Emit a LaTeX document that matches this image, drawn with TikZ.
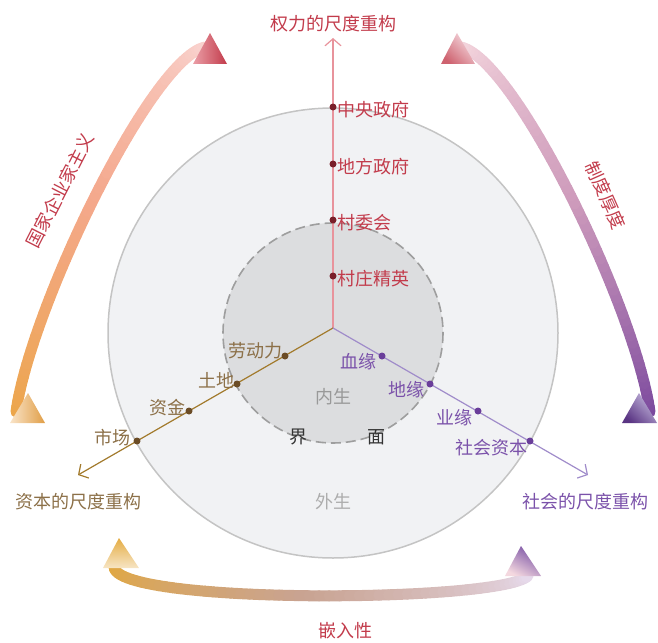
\documentclass[tikz,border=0pt]{standalone}
\usepackage{fontspec}
\newfontfamily\cjk{Noto Sans CJK SC}
\usetikzlibrary{arrows.meta}
\definecolor{redtxt}{HTML}{C23B4B}
\definecolor{redline}{HTML}{E8939C}
\definecolor{reddot}{HTML}{7A1F2A}
\definecolor{browntxt}{HTML}{8C7048}
\definecolor{brownline}{HTML}{A27A2C}
\definecolor{browndot}{HTML}{6B4C26}
\definecolor{purptxt}{HTML}{7B52AA}
\definecolor{purpline}{HTML}{A08CCA}
\definecolor{purpdot}{HTML}{6A3E9A}
\definecolor{outerfill}{HTML}{F1F2F4}
\definecolor{outerdraw}{HTML}{C4C4C4}
\definecolor{innerfill}{HTML}{DCDDDF}
\definecolor{innerdraw}{HTML}{9E9E9E}
% arc colours: a = start, m = middle, b = end
\definecolor{ArcLa}{HTML}{ECA64A}
\definecolor{ArcLm}{HTML}{F4A88C}
\definecolor{ArcLb}{HTML}{F9D2CE}
\definecolor{ArcRa}{HTML}{7A489E}
\definecolor{ArcRm}{HTML}{CE9BBB}
\definecolor{ArcRb}{HTML}{F3D4DC}
\definecolor{ArcBa}{HTML}{E3A83A}
\definecolor{ArcBm}{HTML}{C9A392}
\definecolor{ArcBb}{HTML}{E6DAEC}
\newcommand\gradband[9]{%
  \foreach \i in {0,...,59}{%
    \pgfmathsetmacro\ta{\i/60}%
    \pgfmathsetmacro\tb{(\i+1)/60}%
    \pgfmathsetmacro\tm{(\i+0.5)/60}%
    \ifdim\tm pt<0.5pt
      \pgfmathsetmacro\pcm{200*\tm}\edef\cc{#9m!\pcm!#9a}%
    \else
      \pgfmathsetmacro\pcm{200*\tm-100}\edef\cc{#9b!\pcm!#9m}%
    \fi
    \draw[band,color=\cc] ({bz(\ta,#1,#2,#3,#4)},{bz(\ta,#5,#6,#7,#8)}) -- ({bz(\tb,#1,#2,#3,#4)},{bz(\tb,#5,#6,#7,#8)});
  }}
\begin{document}
\begin{tikzpicture}[x=1pt,y=-1pt,
  declare function={bz(\qs,\qa,\qb,\qc,\qd)=(1-\qs)^3*\qa+3*(1-\qs)^2*\qs*\qb+3*(1-\qs)*\qs^2*\qc+\qs^3*\qd;},
  lbl/.style={font=\cjk\fontsize{18}{18}\selectfont, inner sep=0pt, text height=1.3em, text depth=0.1em},
  band/.style={line width=11pt, line cap=round},
  dotR/.style={circle, fill=reddot, inner sep=0pt, minimum size=7pt},
  dotB/.style={circle, fill=browndot, inner sep=0pt, minimum size=7pt},
  dotP/.style={circle, fill=purpdot, inner sep=0pt, minimum size=7pt},
  axis/.style={line width=1.2pt, -{Straight Barb[length=7pt,width=16pt,line width=1.2pt]}}]
\useasboundingbox (0,0) rectangle (658,642);

% circles
\filldraw[fill=outerfill, draw=outerdraw, line width=1.5pt] (333,333) circle[radius=225];
\filldraw[fill=innerfill, draw=innerdraw, line width=1.6pt, dash pattern=on 10pt off 5pt] (333,333) circle[radius=110];

% axes
\coordinate (O) at (333,328);
\coordinate (tipU) at (333,38);
\coordinate (tipB) at (78,475);
\coordinate (tipP) at (588,475);
\draw[axis, redline] (O) -- (tipU);
\draw[axis, brownline] (O) -- (tipB);
\draw[axis, purpline] (O) -- (tipP);

% vertical dots and labels
\node[dotR] (v1) at (333,107) {};
\node[dotR] (v2) at (333,164) {};
\node[dotR] (v3) at (333,220) {};
\node[dotR] (v4) at (333,276) {};
\node[lbl, text=redtxt, anchor=west] (tv1) at (337,110) {中央政府};
\node[lbl, text=redtxt, anchor=west] (tv2) at (337,167) {地方政府};
\node[lbl, text=redtxt, anchor=west] (tv3) at (337,223) {村委会};
\node[lbl, text=redtxt, anchor=west] (tv4) at (337,279) {村庄精英};

% brown dots and labels
\node[dotB] (b1) at (285,356) {};
\node[dotB] (b2) at (237,384) {};
\node[dotB] (b3) at (189,411) {};
\node[dotB] (b4) at (137,441) {};
\node[lbl, text=browntxt, anchor=east] (tb1) at (283,351) {劳动力};
\node[lbl, text=browntxt, anchor=east] (tb2) at (235,381) {土地};
\node[lbl, text=browntxt, anchor=east] (tb3) at (186,408) {资金};
\node[lbl, text=browntxt, anchor=east] (tb4) at (131,438) {市场};

% purple dots and labels
\node[dotP] (p1) at (382,356) {};
\node[dotP] (p2) at (430,384) {};
\node[dotP] (p3) at (478,411) {};
\node[dotP] (p4) at (530,441) {};
\node[lbl, text=purptxt, anchor=east] (tp1) at (377,362) {血缘};
\node[lbl, text=purptxt, anchor=east] (tp2) at (425,390) {地缘};
\node[lbl, text=purptxt, anchor=east] (tp3) at (473,418) {业缘};
\node[lbl, text=purptxt, anchor=east] (tp4) at (528,448) {社会资本};

% axis titles
\node[lbl, text=redtxt] (tU) at (333,25) {权力的尺度重构};
\node[lbl, text=browntxt] (tB) at (78,502) {资本的尺度重构};
\node[lbl, text=purptxt] (tP) at (585,502) {社会的尺度重构};

% region labels
\node[lbl, text=black!40] (nei) at (333,397) {内生};
\node[lbl, text=black!32] (wai) at (333,502) {外生};
\node[lbl, text=black!80] (jie) at (298,437) {界};
\node[lbl, text=black!80] (mian) at (376,437) {面};

% gradient arcs
\gradband{16}{30}{150}{205}{412}{310}{60}{47}{ArcL}
\gradband{650}{636}{516}{461}{412}{310}{60}{47}{ArcR}
\gradband{114}{110}{500}{528}{566}{605}{603}{576}{ArcB}

% triangles
\shade[left color=ArcLa!30!white, right color=ArcLa!95!black] (10,423) -- (28,393) -- (45,423) -- cycle;
\shade[left color=redline!90!white, right color=redtxt] (193,64) -- (210,33) -- (227,64) -- cycle;
\shade[top color=ArcRb!80!white, bottom color=redtxt!80!white, shading angle=-45] (441,64) -- (457,33) -- (475,64) -- cycle;
\shade[top color=purpline!60!white, bottom color=purpdot!85!black, shading angle=-45] (622,423) -- (639,393) -- (657,423) -- cycle;
\shade[top color=ArcBa!95!white, bottom color=ArcBa!30!white] (103,568) -- (119,538) -- (139,568) -- cycle;
\shade[top color=purpdot!90!white, bottom color=ArcRb!90!white, shading angle=-30] (505,576) -- (521,546) -- (541,576) -- cycle;

% arc labels
\node[lbl, text=redtxt, rotate=63] (tState) at (61,191) {国家企业家主义};
\node[lbl, text=redtxt, rotate=-66] (tInst) at (605,196) {制度厚度};
\node[lbl, text=redtxt] (tEmb) at (345,631) {嵌入性};
\end{tikzpicture}
\end{document}
